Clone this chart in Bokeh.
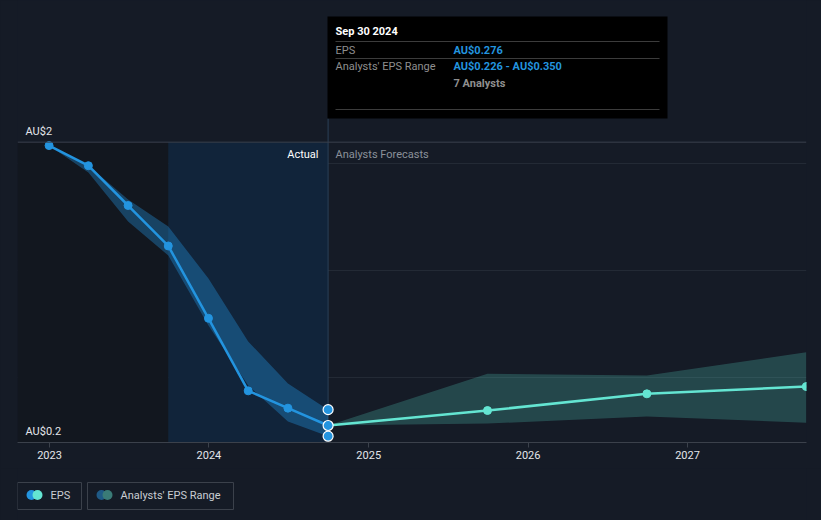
import pandas as pd
from bokeh.plotting import figure
from bokeh.models import Range1d, FixedTicker, DatetimeTickFormatter, Span
from bokeh.layouts import column
from bokeh.embed import file_html
from bokeh.resources import INLINE
from bokeh.core.properties import value

# ---------------- data ----------------
actual_dates = ["2022-12-31", "2023-03-31", "2023-06-30", "2023-09-30",
                "2023-12-31", "2024-03-31", "2024-06-30", "2024-09-30"]
actual_eps = [1.584, 1.490, 1.304, 1.115, 0.777, 0.438, 0.357, 0.276]
actual_low = [1.584, 1.458, 1.229, 1.070, 0.743, 0.463, 0.295, 0.226]
actual_high = [1.584, 1.490, 1.332, 1.206, 0.963, 0.669, 0.472, 0.350]

forecast_dates = ["2024-09-30", "2025-09-30", "2026-09-30", "2027-09-30"]
forecast_eps = [0.276, 0.346, 0.424, 0.458]
forecast_low = [0.276, 0.285, 0.318, 0.289]
forecast_high = [0.276, 0.518, 0.510, 0.618]

x_tick_years = ["2023", "2024", "2025", "2026", "2027"]
y_tick_values = [0.2, 1.6]
y_tick_labels = ["AU$0.2", "AU$2"]
grid_values = [0.5, 1.0, 1.5]

tooltip_date = "Sep 30 2024"
tooltip_eps = "AU$0.276"
tooltip_range = "AU$0.226 - AU$0.350"
tooltip_analysts = "7 Analysts"

# ---------------- styles ----------------
BG = "#151b26"
BLUE = "#2394df"
TEAL = "#64e5d2"
FONT = value("Roboto")

ad = pd.to_datetime(actual_dates)
fd = pd.to_datetime(forecast_dates)

MS_DAY = 86400000.0
T0 = pd.Timestamp("2023-01-01").value / 1e6


def rx(px):
    # page-pixel x -> datetime ms
    return T0 + (px - 49) / 159.5 * 365.25 * MS_DAY


def ry(py):
    # page-pixel y -> value
    return 0.276 + (425 - py) / 214.0


x_start, x_end = rx(17), rx(806)
y_start, y_end = ry(442), ry(0)

p = figure(width=821, height=468, x_axis_type="datetime", y_axis_location=None,
           x_range=Range1d(x_start, x_end), y_range=Range1d(y_start, y_end),
           output_backend="svg", toolbar_location=None,
           background_fill_color=BG, border_fill_color=BG,
           min_border_left=17, min_border_right=15, min_border_top=0, min_border_bottom=26)
p.outline_line_color = None
p.xgrid.grid_line_color = None
p.ygrid.ticker = FixedTicker(ticks=grid_values)
p.ygrid.grid_line_color = "#232a35"
p.ygrid.grid_line_width = 1

# shaded regions
top_line = y_tick_values[-1]
p.quad(left=[x_start], right=[ad[3]], bottom=[y_start], top=[top_line],
       fill_color="#12171f", line_color=None)
p.quad(left=[ad[3]], right=[ad[-1]], bottom=[y_start], top=[top_line],
       fill_color="#11243a", line_color=None)
p.add_layout(Span(location=top_line, dimension="width", line_color="#3a414c", line_width=1))

# crosshair
p.segment(x0=[ad[-1]], x1=[ad[-1]], y0=[ry(118)], y1=[y_start], line_color="#2b4058", line_width=1)

# bands
p.varea(x=ad, y1=actual_low, y2=actual_high, fill_color=BLUE, fill_alpha=0.36)
p.varea(x=fd, y1=forecast_low, y2=forecast_high, fill_color="#58d6c6", fill_alpha=0.24)

# lines
p.line(x=ad, y=actual_eps, line_color=BLUE, line_width=2.5)
p.scatter(x=ad[:-1], y=actual_eps[:-1], size=8, fill_color=BLUE, line_color=BLUE)
p.line(x=fd, y=forecast_eps, line_color=TEAL, line_width=2.5)
p.scatter(x=fd[1:], y=forecast_eps[1:], size=8, fill_color=TEAL, line_color=TEAL)
p.scatter(x=[ad[-1]] * 3, y=[actual_eps[-1], actual_low[-1], actual_high[-1]], size=10,
          fill_color=BLUE, line_color="white", line_width=1.2)

# y labels
p.text(x=[rx(25)] * 2, y=y_tick_values, text=y_tick_labels, text_font=FONT,
       text_font_size="11px", text_color="#e4e6ea", text_baseline="bottom", y_offset=-4)

# Actual / Forecast labels
p.text(x=[rx(318)], y=[ry(154)], text=["Actual"], text_font=FONT, text_font_size="11px",
       text_color="#ffffff", text_align="right", text_baseline="middle")
p.text(x=[rx(335)], y=[ry(154)], text=["Analysts Forecasts"], text_font=FONT,
       text_font_size="11px", text_color="#8b919a", text_align="left", text_baseline="middle")

# tooltip
p.quad(left=[rx(327)], right=[rx(667)], bottom=[ry(118)], top=[ry(16)],
       fill_color="#000000", line_color=None)
p.segment(x0=[rx(335)] * 3, x1=[rx(659)] * 3, y0=[ry(41), ry(58), ry(109)],
          y1=[ry(41), ry(58), ry(109)], line_color="#3c3c3c", line_width=1)
p.text(x=[rx(335)], y=[ry(31)], text=[tooltip_date], text_font=FONT, text_font_size="11px",
       text_font_style="bold", text_color="#ffffff", text_baseline="middle")
p.text(x=[rx(335)] * 2, y=[ry(49.5), ry(66)], text=["EPS", "Analysts' EPS Range"],
       text_font=FONT, text_font_size="11px", text_color="#8f8f8f", text_baseline="middle")
p.text(x=[rx(453)] * 2, y=[ry(49.5), ry(66)], text=[tooltip_eps, tooltip_range],
       text_font=FONT, text_font_size="11px", text_font_style="bold", text_color=BLUE,
       text_baseline="middle")
p.text(x=[rx(453)], y=[ry(83)], text=[tooltip_analysts], text_font=FONT, text_font_size="11px",
       text_font_style="bold", text_color="#8f8f8f", text_baseline="middle")

# x axis
p.xaxis.ticker = FixedTicker(ticks=[pd.Timestamp(y + "-01-01").value / 1e6 for y in x_tick_years])
p.xaxis.formatter = DatetimeTickFormatter(years="%Y", months="%Y", days="%Y", hours="%Y")
p.xaxis.axis_line_color = "#3b414b"
p.xaxis.major_tick_line_color = "#3b414b"
p.xaxis.major_tick_out = 5
p.xaxis.major_tick_in = 0
p.xaxis.minor_tick_line_color = None
p.xaxis.major_label_text_color = "#e4e6ea"
p.xaxis.major_label_text_font = "Roboto"
p.xaxis.major_label_text_font_size = "11px"
p.xaxis.major_label_standoff = 3

# ---------------- legend strip ----------------
# (column layout aligns this frame with the main frame: page x 17..806)
leg = figure(width=821, height=52, x_range=Range1d(17, 806), y_range=Range1d(520, 468),
             output_backend="svg", toolbar_location=None, x_axis_location=None,
             y_axis_location=None, background_fill_color=BG, border_fill_color=BG,
             min_border_left=17, min_border_right=15, min_border_top=0, min_border_bottom=0)
leg.outline_line_color = None
leg.grid.visible = False
leg.quad(left=[17, 87], right=[81, 233], top=[482, 482], bottom=[509, 509],
         fill_color=None, line_color="#3b414b", line_width=1)
leg.scatter(x=[31, 37], y=[494.5, 494.5], size=10, fill_color=[BLUE, TEAL], line_color=None)
leg.scatter(x=[101, 107], y=[494.5, 494.5], size=10, fill_color=["#1f5a86", "#3a7b77"],
            line_color=None)
leg.text(x=[50, 120], y=[495, 495], text=["EPS", "Analysts' EPS Range"], text_font=FONT,
         text_font_size="11px", text_color="#c9cdd3", text_baseline="middle")

layout = column(p, leg, spacing=0)
html = file_html(layout, INLINE)
style = "<style>html, body { background-color: #151b26; margin: 0; }</style>"
idx = html.rfind("</body>")
if idx >= 0:
    html = html[:idx] + style + html[idx:]
open("out.html", "w").write(html)
